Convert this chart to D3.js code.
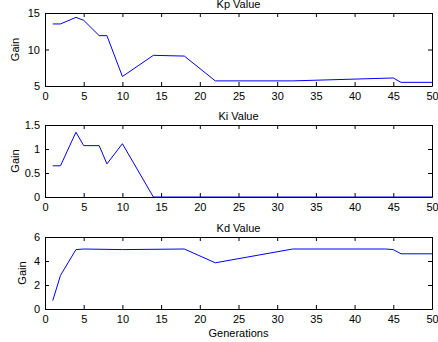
<!DOCTYPE html>
<html>
<head>
<meta charset="utf-8">
<script src="https://cdn.jsdelivr.net/npm/d3@7"></script>
<style>
  body { margin: 0; background: #fff; }
  text { font-family: "Liberation Sans", Arial, sans-serif; fill: #000; }
</style>
</head>
<body>
<div id="chart"></div>
<script>
// generations and gains
const kpGen = [1, 2, 4, 5, 7, 8, 10, 14, 18, 22, 32, 45, 46, 50];
const kpVal = [13.5, 13.5, 14.4, 14.0, 11.9, 11.9, 6.3, 9.2, 9.1, 5.7, 5.7, 6.1, 5.5, 5.5];

const kiGen = [1, 2, 4, 5, 7, 8, 10, 14, 50];
const kiVal = [0.65, 0.65, 1.35, 1.07, 1.07, 0.69, 1.11, 0, 0];

const kdGen = [1, 2, 4, 5, 10, 18, 22, 32, 44, 45, 46, 50];
const kdVal = [0.7, 2.8, 4.95, 5.0, 4.95, 5.0, 3.85, 5.0, 5.0, 4.95, 4.6, 4.6];

const xTicks = [0, 5, 10, 15, 20, 25, 30, 35, 40, 45, 50];

const panels = [
  { title: 'Kp Value', gen: kpGen, val: kpVal, yDomain: [5, 15], yTicks: [5, 10, 15], top: 13, bottom: 86, labelX: 15 },
  { title: 'Ki Value', gen: kiGen, val: kiVal, yDomain: [0, 1.5], yTicks: [0, 0.5, 1, 1.5], top: 125, bottom: 197, labelX: 15 },
  { title: 'Kd Value', gen: kdGen, val: kdVal, yDomain: [0, 6], yTicks: [0, 2, 4, 6], top: 237, bottom: 309, labelX: 22 }
];

const W = 438, H = 342;
const left = 45, right = 432;

const svg = d3.select('#chart').append('svg')
  .attr('width', W)
  .attr('height', H);

const x = d3.scaleLinear().domain([0, 50]).range([left, right]);

panels.forEach((p, i) => {
  const y = d3.scaleLinear().domain(p.yDomain).range([p.bottom, p.top]);
  const g = svg.append('g');

  // axes with inward ticks, matlab style
  g.append('g')
    .attr('transform', 'translate(0,' + p.bottom + ')')
    .call(d3.axisBottom(x).tickValues(xTicks).tickSizeInner(-4).tickSizeOuter(0).tickPadding(6));
  g.append('g')
    .attr('transform', 'translate(0,' + p.top + ')')
    .call(d3.axisTop(x).tickValues(xTicks).tickSizeInner(-4).tickSizeOuter(0).tickFormat(''));
  g.append('g')
    .attr('transform', 'translate(' + left + ',0)')
    .call(d3.axisLeft(y).tickValues(p.yTicks).tickSizeInner(-4).tickSizeOuter(0).tickPadding(5)
      .tickFormat(d => String(d)));
  g.append('g')
    .attr('transform', 'translate(' + right + ',0)')
    .call(d3.axisRight(y).tickValues(p.yTicks).tickSizeInner(-4).tickSizeOuter(0).tickFormat(''));

  g.selectAll('.domain').attr('stroke', '#000').attr('stroke-width', 1);
  g.selectAll('.tick line').attr('stroke', '#000');
  g.selectAll('.tick text').style('font-size', '11px').attr('fill', '#000')
    .style('font-family', '"Liberation Sans", Arial, sans-serif');

  const pts = p.gen.map((d, j) => [d, p.val[j]]);
  g.append('path')
    .datum(pts)
    .attr('fill', 'none')
    .attr('stroke', '#0000ff')
    .attr('stroke-width', 1)
    .attr('d', d3.line().x(d => x(d[0])).y(d => y(d[1])));

  g.append('text')
    .attr('x', (left + right) / 2)
    .attr('y', p.top - 5)
    .attr('text-anchor', 'middle')
    .style('font-size', '11px')
    .text(p.title);

  g.append('text')
    .attr('transform', 'translate(' + p.labelX + ',' + (p.top + p.bottom) / 2 + ') rotate(-90)')
    .attr('text-anchor', 'middle')
    .attr('dy', '0.35em')
    .style('font-size', '11px')
    .text('Gain');
});

svg.append('text')
  .attr('x', (left + right) / 2)
  .attr('y', 337)
  .attr('text-anchor', 'middle')
  .style('font-size', '11px')
  .text('Generations');
</script>
</body>
</html>
